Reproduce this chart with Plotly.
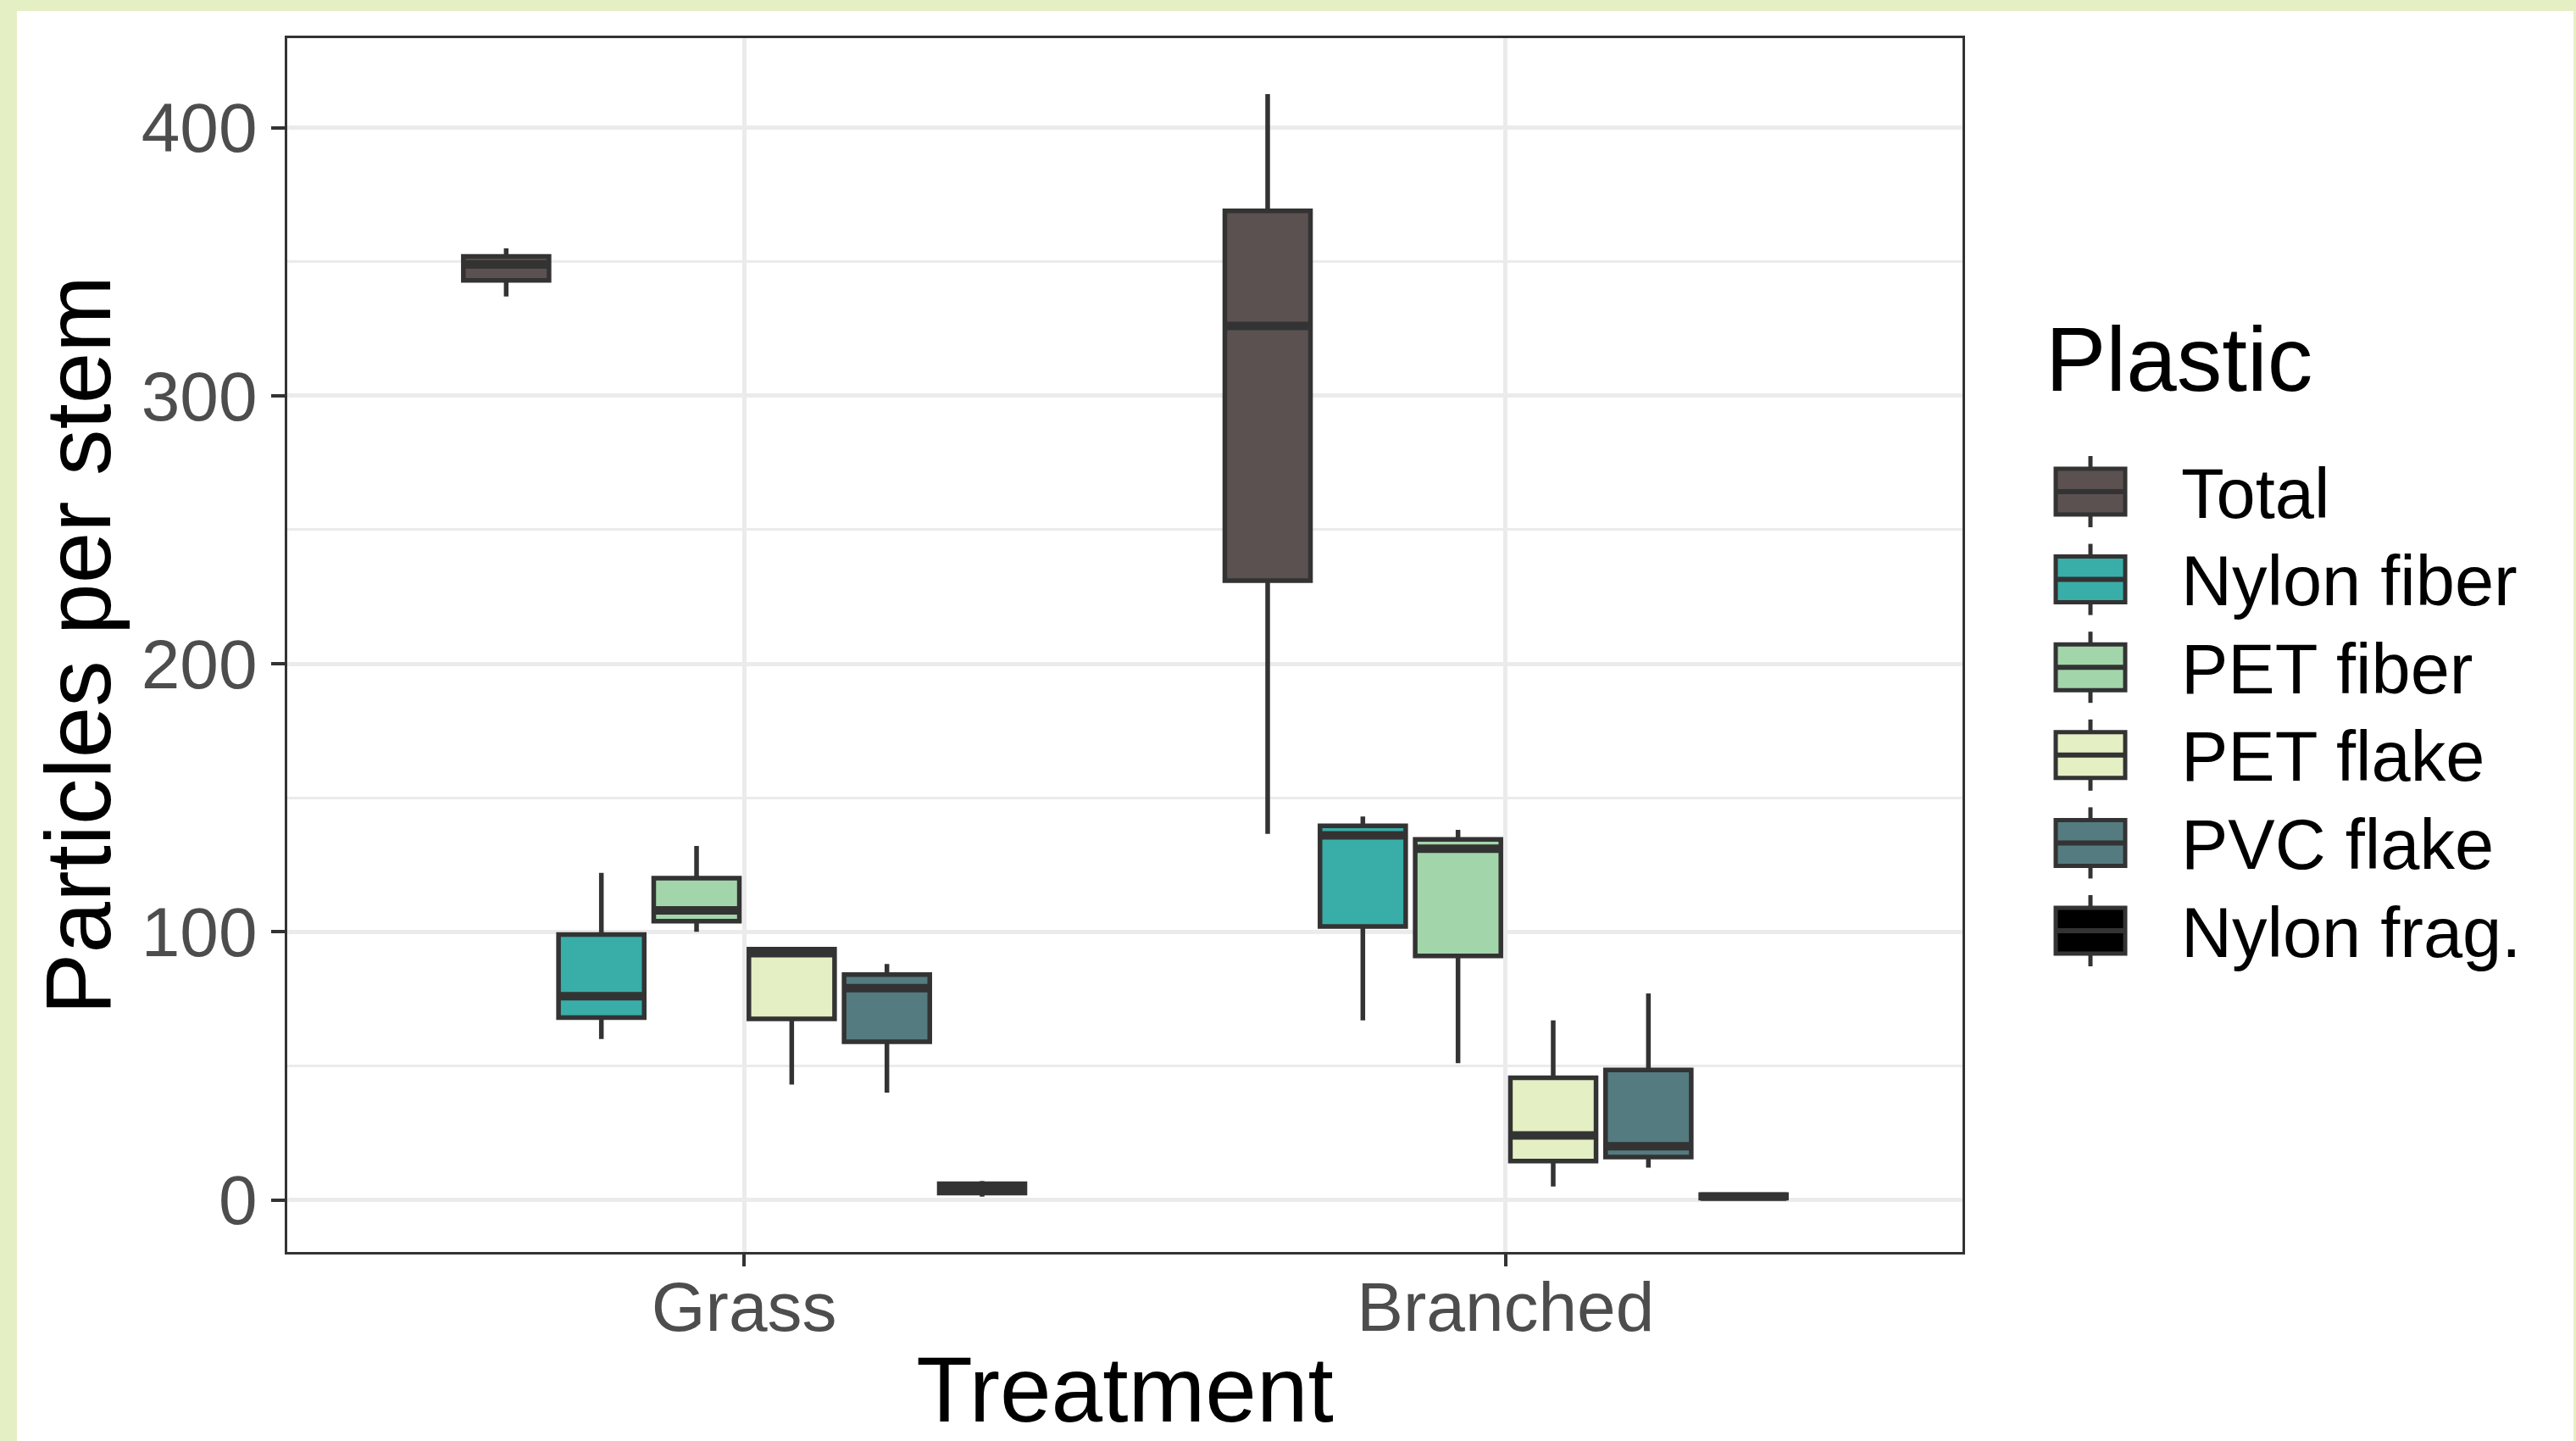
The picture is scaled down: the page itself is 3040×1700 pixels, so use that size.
import plotly.graph_objects as go

# ---------------- data ----------------
treatments = ["Grass", "Branched"]
plastics = ["Total", "Nylon fiber", "PET fiber", "PET flake", "PVC flake", "Nylon frag."]
colors = ["#5B5150", "#39ADA8", "#A3D5AB", "#E4EFC3", "#547B80", "#000000"]

grass_low = [337, 60, 100, 43, 40, 1.2]
grass_q1 = [343, 68, 104, 67.5, 59, 2.5]
grass_med = [349, 76, 108, 92, 79, 4.5]
grass_q3 = [352, 99, 120, 93.5, 84, 6]
grass_high = [355, 122, 132, 93.5, 88, 7]

branched_low = [136.5, 67, 51, 5, 12, 0.5]
branched_q1 = [231, 102, 91, 14.5, 16, 0.6]
branched_med = [326, 136, 131, 24, 20, 1.2]
branched_q3 = [369, 139.5, 134.5, 45.5, 48.5, 2]
branched_high = [412.5, 143, 138, 67, 77, 2.5]

y_ticks = [0, 100, 200, 300, 400]

# ---------------- layout geometry (pixels) ----------------
FW, FH = 3040, 1700
L, R, T, B = 339, 2316, 45, 1477
W, H = R - L, B - T
EDGE = "#333333"
BORDER_GREEN = "#E5EFC4"


def px(x):
    return (x - L) / W


def py(y):
    return (B - y) / H


fig = go.Figure()

for i, name in enumerate(plastics):
    fig.add_trace(go.Box(
        name=name,
        x=treatments,
        lowerfence=[grass_low[i], branched_low[i]],
        q1=[grass_q1[i], branched_q1[i]],
        median=[grass_med[i], branched_med[i]],
        q3=[grass_q3[i], branched_q3[i]],
        upperfence=[grass_high[i], branched_high[i]],
        fillcolor=colors[i],
        line=dict(color=EDGE, width=5.5),
        boxpoints=False,
        whiskerwidth=0,
        offsetgroup=str(i),
        showlegend=False,
        hoverinfo="skip",
    ))

# thicker median bars (ggplot draws the median twice as thick as the box outline)
for i, name in enumerate(plastics):
    meds = [grass_med[i], branched_med[i]]
    fig.add_trace(go.Box(
        name=name + " median",
        x=treatments,
        lowerfence=meds, q1=meds, median=meds, q3=meds, upperfence=meds,
        fillcolor="rgba(0,0,0,0)",
        line=dict(color=EDGE, width=10),
        boxpoints=False,
        whiskerwidth=0,
        offsetgroup=str(i),
        showlegend=False,
        hoverinfo="skip",
    ))

shapes = []
annotations = []

# green frame around the image
for x0, x1, y0, y1 in [(0, FW, 0, 13), (0, 20, 0, FH), (3037, FW, 0, FH)]:
    shapes.append(dict(type="rect", xref="paper", yref="paper",
                       x0=px(x0), x1=px(x1), y0=py(y1), y1=py(y0),
                       fillcolor=BORDER_GREEN, line=dict(width=0), layer="above"))

# custom legend (ggplot-style keys)
row0, row_step = 580, 103.6
kx0, kx1 = 2426, 2508
kxc = (kx0 + kx1) / 2
for i, name in enumerate(plastics):
    yc = row0 + i * row_step
    shapes.append(dict(type="line", xref="paper", yref="paper",
                       x0=px(kxc), x1=px(kxc), y0=py(yc - 42), y1=py(yc + 42),
                       line=dict(color=EDGE, width=5)))
    shapes.append(dict(type="rect", xref="paper", yref="paper",
                       x0=px(kx0), x1=px(kx1), y0=py(yc + 27), y1=py(yc - 27),
                       fillcolor=colors[i], line=dict(color=EDGE, width=5)))
    shapes.append(dict(type="line", xref="paper", yref="paper",
                       x0=px(kx0), x1=px(kx1), y0=py(yc), y1=py(yc),
                       line=dict(color=EDGE, width=6)))
    annotations.append(dict(xref="paper", yref="paper", x=px(2572), y=py(yc + 2),
                            text=name, showarrow=False, xanchor="left", yanchor="middle",
                            font=dict(family="Liberation Sans, Arial", size=83, color="black")))

annotations.append(dict(xref="paper", yref="paper", x=px(2412), y=py(424),
                        text="Plastic", showarrow=False, xanchor="left", yanchor="middle",
                        font=dict(family="Liberation Sans, Arial", size=107, color="black")))

fig.update_layout(
    width=FW, height=FH,
    margin=dict(l=L, r=FW - R, t=T, b=FH - B, autoexpand=False),
    paper_bgcolor="white",
    plot_bgcolor="white",
    boxmode="group",
    boxgap=0.25,
    boxgroupgap=0.1,
    shapes=shapes,
    annotations=annotations,
    font=dict(family="Liberation Sans, Arial", color="#4D4D4D"),
    xaxis=dict(
        type="category",
        categoryorder="array", categoryarray=treatments,
        range=[-0.6, 1.6],
        showgrid=True, gridcolor="#EBEBEB", gridwidth=5,
        showline=True, linecolor=EDGE, linewidth=3, mirror=True,
        ticks="outside", ticklen=14, tickwidth=4, tickcolor=EDGE,
        ticklabelstandoff=-22,
        tickfont=dict(size=82, color="#4D4D4D"),
        title=dict(text="Treatment", font=dict(size=109, color="black"), standoff=28),
        zeroline=False, fixedrange=True,
    ),
    yaxis=dict(
        range=[-19.45, 433.4],
        tickvals=y_ticks,
        showgrid=True, gridcolor="#EBEBEB", gridwidth=5,
        minor=dict(dtick=50, tick0=0, showgrid=True, gridcolor="#EBEBEB", gridwidth=2.5, ticks=""),
        showline=True, linecolor=EDGE, linewidth=3, mirror=True,
        ticks="outside", ticklen=16, tickwidth=4, tickcolor=EDGE,
        tickfont=dict(size=82, color="#4D4D4D"),
        title=dict(text="Particles per stem", font=dict(size=109, color="black"), standoff=0),
        zeroline=False, fixedrange=True,
    ),
)

fig.write_html(
    "out.html",
    config={"displayModeBar": False},
    post_script="document.body.style.margin='0';document.body.style.padding='0';",
)
